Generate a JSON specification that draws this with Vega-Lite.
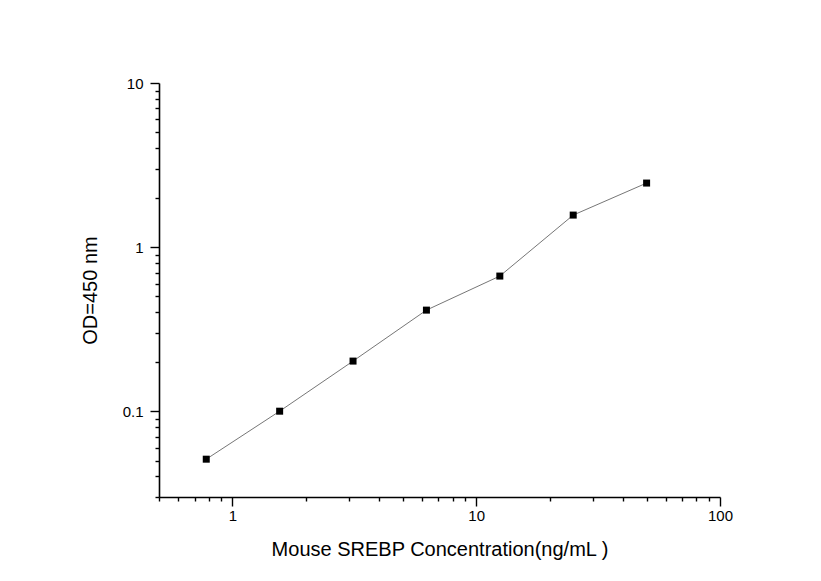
{
  "$schema": "https://vega.github.io/schema/vega-lite/v6.json",
  "width": 561,
  "height": 414,
  "autosize": {"type": "none"},
  "padding": {"left": 159, "top": 83, "right": 101, "bottom": 84},
  "background": "white",
  "config": {
    "view": {"stroke": null},
    "font": "Liberation Sans",
    "axis": {
      "domainColor": "black",
      "domainWidth": 1.6,
      "tickColor": "black",
      "tickWidth": 1.4,
      "labelColor": "black",
      "titleColor": "black",
      "labelFontSize": 15,
      "titleFontSize": 20,
      "titleFontWeight": "normal",
      "grid": false,
      "labelOverlap": false,
      "labelFlush": false,
      "tickSize": {
        "condition": {"test": "abs(log(datum.value)/LN10 - round(log(datum.value)/LN10)) < 0.001", "value": 9},
        "value": 4
      }
    }
  },
  "data": {
    "values": [
      {"conc": 0.78125, "od": 0.051},
      {"conc": 1.5625, "od": 0.100},
      {"conc": 3.125, "od": 0.202},
      {"conc": 6.25, "od": 0.413},
      {"conc": 12.5, "od": 0.666},
      {"conc": 25, "od": 1.567},
      {"conc": 50, "od": 2.456}
    ]
  },
  "encoding": {
    "x": {
      "field": "conc",
      "type": "quantitative",
      "scale": {"type": "log", "domain": [0.5, 100], "nice": false},
      "axis": {
        "title": "Mouse SREBP Concentration(ng/mL )",
        "values": [0.5, 0.6, 0.7, 0.8, 0.9, 1, 2, 3, 4, 5, 6, 7, 8, 9, 10, 20, 30, 40, 50, 60, 70, 80, 90, 100],
        "labelExpr": "abs(log(datum.value)/LN10 - round(log(datum.value)/LN10)) < 0.001 ? format(datum.value, '~g') : ''",
        "labelPadding": 2,
        "titlePadding": 16
      }
    },
    "y": {
      "field": "od",
      "type": "quantitative",
      "scale": {"type": "log", "domain": [0.03, 10], "nice": false},
      "axis": {
        "title": "OD=450 nm",
        "values": [0.03, 0.04, 0.05, 0.06, 0.07, 0.08, 0.09, 0.1, 0.2, 0.3, 0.4, 0.5, 0.6, 0.7, 0.8, 0.9, 1, 2, 3, 4, 5, 6, 7, 8, 9, 10],
        "labelExpr": "abs(log(datum.value)/LN10 - round(log(datum.value)/LN10)) < 0.001 ? format(datum.value, '~g') : ''",
        "labelPadding": 7,
        "titlePadding": 22
      }
    }
  },
  "layer": [
    {"mark": {"type": "line", "stroke": "#666666", "strokeWidth": 0.9}},
    {"mark": {"type": "point", "shape": "square", "filled": true, "color": "black", "size": 49, "opacity": 1}}
  ]
}
